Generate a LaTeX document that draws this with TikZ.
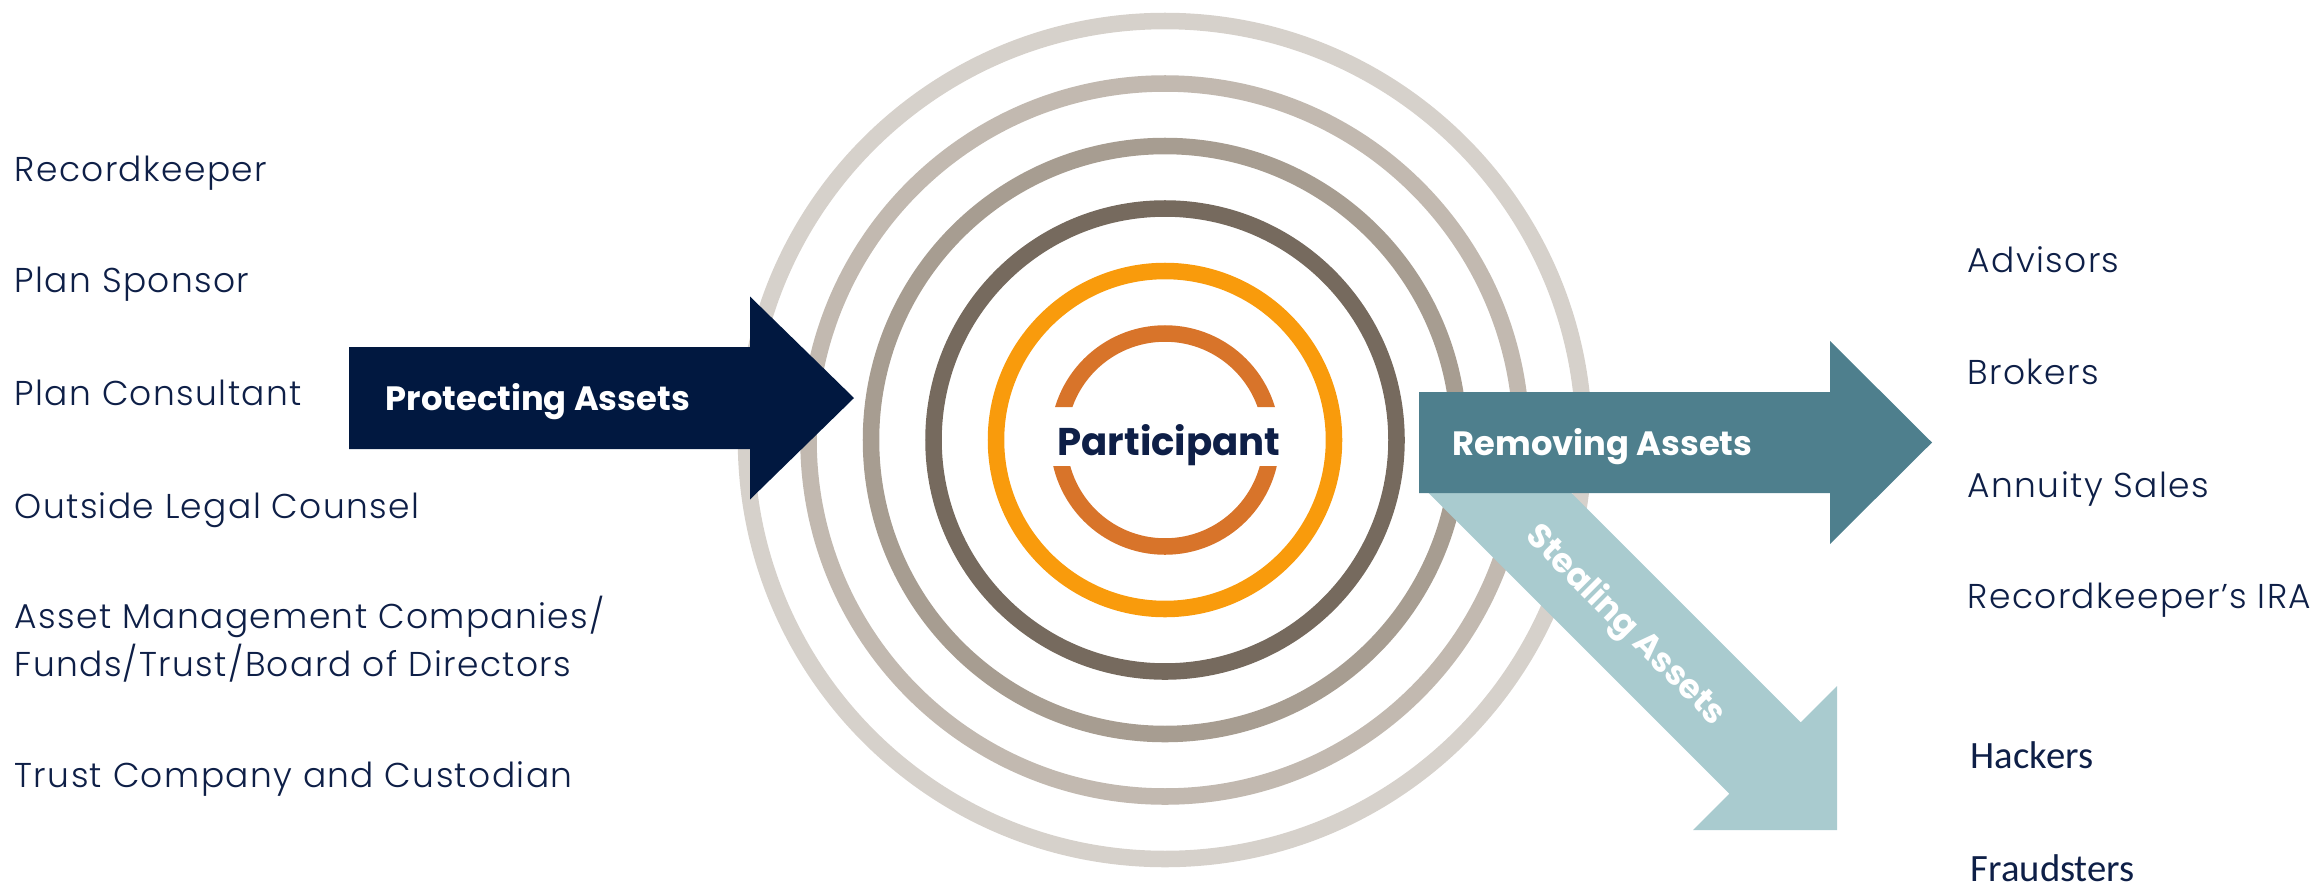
\documentclass[tikz,border=0pt]{standalone}
\usepackage{fontspec}
\setmainfont{Poppins}
\newfontfamily\lightfont{Poppins Light}[LetterSpace=4]
\newfontfamily\calibrifont{Carlito}
\usepackage{xcolor}
\usepackage{tikz}

\definecolor{inkblue}{HTML}{0E1F47}
\definecolor{protectblue}{HTML}{011840}
\definecolor{removeteal}{HTML}{4E7F8D}
\definecolor{stealaqua}{HTML}{A9CBCF}
\definecolor{ringA}{HTML}{D6D1CB}
\definecolor{ringB}{HTML}{C2B9B0}
\definecolor{ringC}{HTML}{A79D91}
\definecolor{ringD}{HTML}{766A5E}
\definecolor{ringE}{HTML}{F99B0C}
\definecolor{ringF}{HTML}{D8742A}

\begin{document}
\begin{tikzpicture}[
  ring/.style={line width=4.7pt},
  item/.style={anchor=base west, inner sep=0pt, text=inkblue, font=\lightfont\fontsize{9.8}{13.4}\selectfont},
  bandlabel/.style={inner sep=0pt, text=white, font=\bfseries\fontsize{9.6}{11}\selectfont}
]
\useasboundingbox (0,0) rectangle (23.23,8.82);
\coordinate (ctr) at (11.65,4.42);
\foreach \r/\c in {4.19/ringA,3.565/ringB,2.94/ringC,2.315/ringD,1.69/ringE}
  \draw[ring,\c] (ctr) circle (\r);
\begin{scope}
  \clip (10,4.75) rectangle (13.3,6) (10,2.8) rectangle (13.3,4.16);
  \draw[ring,ringF] (ctr) circle (1.065);
\end{scope}

\fill[stealaqua] (14.216,3.96) -- (15.644,3.96) -- (18.007,1.597) -- (18.37,1.96) -- (18.37,0.52) -- (16.93,0.52) -- (17.293,0.883) -- cycle;
\fill[removeteal] (14.19,4.90) -- (18.30,4.90) -- (18.30,5.41) -- (19.32,4.395) -- (18.30,3.38) -- (18.30,3.89) -- (14.19,3.89) -- cycle;
\fill[protectblue] (3.49,5.35) -- (7.50,5.35) -- (7.50,5.855) -- (8.54,4.84) -- (7.50,3.825) -- (7.50,4.33) -- (3.49,4.33) -- cycle;

\node[bandlabel,anchor=base west] (protect) at (3.85,4.72) {Protecting Assets};
\node[bandlabel,anchor=base west] (remove) at (14.52,4.27) {Removing Assets};
\node[bandlabel,rotate=-45] (steal) at (16.25,2.56) {Stealing Assets};
\node[anchor=base,inner sep=0pt,text=inkblue,font=\bfseries\fontsize{11}{12}\selectfont] (participant) at (11.69,4.27) {Participant};

\node[item] (recordkeeper) at (0.14,7.01) {Recordkeeper};
\node[item] (sponsor) at (0.14,5.90) {Plan Sponsor};
\node[item] (consultant) at (0.14,4.77) {Plan Consultant};
\node[item] (counsel) at (0.14,3.64) {Outside Legal Counsel};
\node[item,align=left] (assetmgmt) at (0.14,2.06) {Asset Management Companies/\\Funds/Trust/Board of Directors};
\node[item] (trustco) at (0.14,0.95) {Trust Company and Custodian};

\node[item] (advisors) at (19.67,6.10) {Advisors};
\node[item] (brokers) at (19.67,4.98) {Brokers};
\node[item] (annuity) at (19.67,3.85) {Annuity Sales};
\node[item] (ira) at (19.67,2.74) {Recordkeeper’s IRA};
\node[item,font=\calibrifont\fontsize{11}{13}\selectfont] (hackers) at (19.70,1.14) {Hackers};
\node[item,font=\calibrifont\fontsize{11}{13}\selectfont] (fraudsters) at (19.70,0.01) {Fraudsters};
\end{tikzpicture}
\end{document}
